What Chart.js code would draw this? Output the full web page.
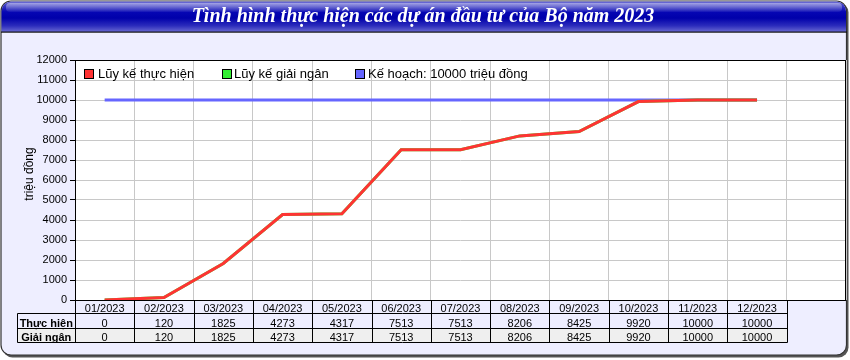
<!DOCTYPE html>
<html><head><meta charset="utf-8">
<script src="https://cdn.jsdelivr.net/npm/chart.js@4/dist/chart.umd.min.js"></script>
<style>html,body{margin:0;padding:0;background:#fff;}canvas{display:block}</style>
</head><body>
<canvas id="c" width="850" height="360"></canvas>
<script>
const titleText = 'Tình hình thực hiện các dự án đầu tư của Bộ năm 2023';
const yAxisTitle = 'triệu đồng';
const months = ['01/2023','02/2023','03/2023','04/2023','05/2023','06/2023','07/2023','08/2023','09/2023','10/2023','11/2023','12/2023'];
const seriesNames = ['Lũy kế thực hiện','Lũy kế giải ngân','Kế hoạch: 10000 triệu đồng'];
const rowNames = ['Thực hiện','Giải ngân'];
const thucHien = [0,120,1825,4273,4317,7513,7513,8206,8425,9920,10000,10000];
const giaiNgan = [0,120,1825,4273,4317,7513,7513,8206,8425,9920,10000,10000];
const keHoach  = [10000,10000,10000,10000,10000,10000,10000,10000,10000,10000,10000,10000];

const BG = '#eeeeff';
const colors = ['#ff3333','#33ee33','#6666ff'];

function rr(ctx,x,y,w,h,r){
  ctx.beginPath();
  ctx.moveTo(x+r,y);ctx.lineTo(x+w-r,y);ctx.arcTo(x+w,y,x+w,y+r,r);
  ctx.lineTo(x+w,y+h-r);ctx.arcTo(x+w,y+h,x+w-r,y+h,r);
  ctx.lineTo(x+r,y+h);ctx.arcTo(x,y+h,x,y+h-r,r);
  ctx.lineTo(x,y+r);ctx.arcTo(x,y,x+r,y,r);ctx.closePath();
}

const framePlugin = {
  id:'frame',
  beforeDraw(chart){
    const ctx=chart.ctx, a=chart.chartArea;
    ctx.save();
    ctx.fillStyle='#fff';ctx.fillRect(0,0,850,360);
    rr(ctx,2.5,2.5,846,355,10);ctx.fillStyle='#555';ctx.fill();
    rr(ctx,1,1,845.5,354,10);ctx.fillStyle=BG;ctx.fill();
    ctx.lineWidth=1.2;ctx.strokeStyle='#333';ctx.stroke();
    ctx.save();
    rr(ctx,1.5,1.5,844.5,353,9.5);ctx.clip();
    const g=ctx.createLinearGradient(0,1,0,32);
    g.addColorStop(0,'#8080dc');g.addColorStop(0.1,'#4848c8');g.addColorStop(0.35,'#0606b4');
    g.addColorStop(0.55,'#0000aa');g.addColorStop(0.8,'#2c2cbc');g.addColorStop(1,'#6a6ad2');
    ctx.fillStyle=g;ctx.fillRect(0,0,850,32);
    const g2=ctx.createLinearGradient(0,3,0,12);
    g2.addColorStop(0,'rgba(255,255,255,0.45)');g2.addColorStop(1,'rgba(255,255,255,0.05)');
    rr(ctx,6,3,836,9,4);ctx.fillStyle=g2;ctx.fill();
    ctx.restore();
    ctx.fillStyle='#111';ctx.fillRect(1,31.5,846,1.2);
    ctx.fillStyle='#fff';ctx.fillRect(a.left,a.top,a.right-a.left,a.bottom-a.top);
    ctx.restore();
  },
  beforeDatasetsDraw(chart){
    const ctx=chart.ctx,a=chart.chartArea;
    ctx.save();ctx.strokeStyle='#000';ctx.lineWidth=1;
    ctx.strokeRect(a.left+0.5,a.top+0.5,a.right-a.left-1,a.bottom-a.top);
    ctx.restore();
  },
  afterDraw(chart){
    const ctx=chart.ctx,a=chart.chartArea,xs=chart.scales.x;
    const w=xs.getPixelForValue(1)-xs.getPixelForValue(0);
    const n=months.length;
    const edge=i=>Math.round(xs.getPixelForValue(i)-w/2)+0.5;
    const L=17.5, R=edge(n);
    const y0=a.bottom, y1=y0+13, y2=y0+28, y3=y0+42;
    ctx.save();
    ctx.fillStyle='#efefef';ctx.fillRect(L,y2,R-L,y3-y2);
    ctx.strokeStyle='#000';ctx.lineWidth=1;ctx.beginPath();
    [y1,y2,y3].forEach(y=>{const yy=Math.round(y)+0.5;ctx.moveTo(L,yy);ctx.lineTo(R,yy);});
    ctx.moveTo(L,y1+0.5);ctx.lineTo(L,y3+0.5);
    for(let i=0;i<=n;i++){const x=edge(i);ctx.moveTo(x,y0);ctx.lineTo(x,y3+0.5);}
    ctx.stroke();
    ctx.fillStyle='#000';ctx.textAlign='center';ctx.textBaseline='alphabetic';
    ctx.font='11px "Liberation Sans", Arial, sans-serif';
    for(let i=0;i<n;i++){
      const cx=xs.getPixelForValue(i);
      ctx.fillText(xs.getLabelForValue(i),cx,y1-1);
      ctx.fillText(String(thucHien[i]),cx,y2-1);
      ctx.fillText(String(giaiNgan[i]),cx,y3-1);
    }
    ctx.font='bold 11px "Liberation Sans", Arial, sans-serif';
    ctx.fillText(rowNames[0],(L+a.left)/2,y2-1);
    ctx.fillText(rowNames[1],(L+a.left)/2,y3-1);
    ctx.save();ctx.translate(30,174);ctx.rotate(-Math.PI/2);
    ctx.font='12px "Liberation Sans", Arial, sans-serif';
    ctx.textBaseline='middle';ctx.fillText(yAxisTitle,0,0);ctx.restore();
    ctx.font='13px "Liberation Sans", Arial, sans-serif';ctx.textAlign='left';ctx.textBaseline='middle';
    const lx=[84,222,355], tx=[98,234,368];
    for(let k=0;k<3;k++){
      ctx.fillStyle=colors[k];ctx.fillRect(lx[k]+0.5,69.5,9,9);
      ctx.strokeStyle='#000';ctx.strokeRect(lx[k]+0.5,69.5,9,9);
      ctx.fillStyle='#000';ctx.fillText(seriesNames[k],tx[k],74.5);
    }
    ctx.restore();
  }
};

new Chart(document.getElementById('c'),{
  type:'line',
  data:{
    labels:months.concat(['']),
    datasets:[
      {label:seriesNames[0],data:thucHien,borderColor:colors[0],borderWidth:3,pointRadius:0,tension:0,fill:false},
      {label:seriesNames[1],data:giaiNgan,borderColor:colors[1],borderWidth:3,pointRadius:0,tension:0,fill:false},
      {label:seriesNames[2],data:keHoach,borderColor:colors[2],borderWidth:3,pointRadius:0,tension:0,fill:false}
    ]
  },
  options:{
    responsive:false,animation:false,devicePixelRatio:1,
    layout:{padding:{left:0,right:4,top:0,bottom:0}},
    plugins:{
      legend:{display:false},tooltip:{enabled:false},
      title:{display:true,text:titleText,color:'#fff',
        font:{family:'"Liberation Serif", "Times New Roman", serif',size:20,style:'italic',weight:'bold',lineHeight:1.2},
        padding:{top:5,bottom:31}}
    },
    scales:{
      x:{offset:true,
        grid:{offset:true,color:'#c8c8c8',drawTicks:false},
        border:{display:false},
        ticks:{display:false},
        afterFit(s){s.height=60;}
      },
      y:{min:0,max:12000,
        ticks:{stepSize:1000,color:'#000',padding:3,font:{family:'"Liberation Sans", Arial, sans-serif',size:11},
          callback:v=>String(v)},
        grid:{color:'#c8c8c8',tickColor:'#000',tickLength:5},
        border:{display:false},
        afterFit(s){s.width=75;}
      }
    }
  },
  plugins:[framePlugin]
});
</script>
</body></html>
